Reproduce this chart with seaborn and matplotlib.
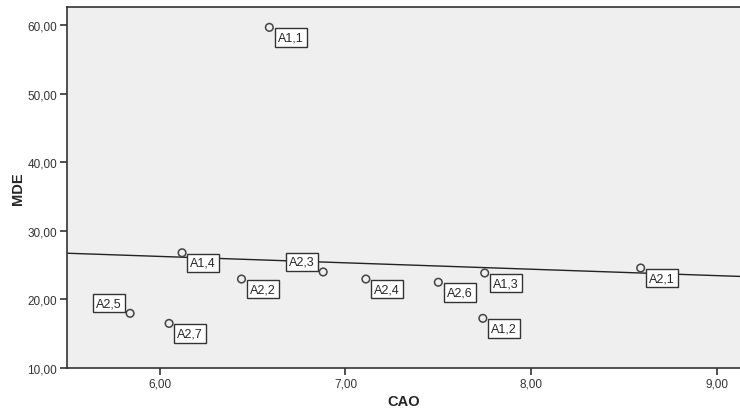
import numpy as np
import pandas as pd
import matplotlib
matplotlib.use('Agg')
import matplotlib.pyplot as plt
import seaborn as sns

# values
labels = ['A1,1', 'A1,2', 'A1,3', 'A1,4', 'A2,1', 'A2,2', 'A2,3', 'A2,4', 'A2,5', 'A2,6', 'A2,7']
cao = [6.59, 7.74, 7.75, 6.12, 8.59, 6.44, 6.88, 7.11, 5.84, 7.50, 6.05]
mde = [59.66, 17.24, 23.85, 26.80, 24.58, 22.97, 24.00, 22.97, 17.97, 22.50, 16.50]

x_ticks = [6, 7, 8, 9]
y_ticks = [10, 20, 30, 40, 50, 60]

data = pd.DataFrame({'CAO': cao, 'MDE': mde, 'label': labels})

sns.set_style('ticks')
plt.rcParams['font.family'] = ['Liberation Sans', 'DejaVu Sans']

fig = plt.figure(figsize=(7.4, 4.1), dpi=100)
ax = fig.add_axes([0.0905, 0.1, 0.9095, 0.88])
ax.set_facecolor('#efefef')

ax.set_xlim(5.5, 9.125)
ax.set_ylim(10, 62.6)

# fit line across the whole x range
sns.regplot(x='CAO', y='MDE', data=data, ax=ax, scatter=False, ci=None,
            truncate=False, line_kws={'color': '#222222', 'lw': 1})
sns.scatterplot(x='CAO', y='MDE', data=data, ax=ax, marker='o', s=30,
                facecolor='none', edgecolor='#444444', linewidth=1.1, zorder=3)

ax.set_xlim(5.5, 9.125)
ax.set_ylim(10, 62.6)

# point labels in boxes, most go lower right
upper_left = {'A2,5', 'A2,3'}
box = dict(boxstyle='square,pad=0.25', fc='white', ec='#333333', lw=1)
for _, r in data.iterrows():
    if r['label'] in upper_left:
        ax.annotate(r['label'], (r['CAO'], r['MDE']), xytext=(-6, 3),
                    textcoords='offset points', ha='right', va='bottom',
                    fontsize=9, bbox=box, zorder=4)
    else:
        ax.annotate(r['label'], (r['CAO'], r['MDE']), xytext=(6, -3),
                    textcoords='offset points', ha='left', va='top',
                    fontsize=9, bbox=box, zorder=4)

ax.set_xticks(x_ticks)
ax.set_yticks(y_ticks)
ax.set_xticklabels([f'{t:.2f}'.replace('.', ',') for t in x_ticks])
ax.set_yticklabels([f'{t:.2f}'.replace('.', ',') for t in y_ticks])
ax.tick_params(labelsize=8.5, colors='#333333', length=5, width=1.2, pad=2)

for side in ['left', 'bottom', 'top']:
    ax.spines[side].set_color('#333333')
    ax.spines[side].set_linewidth(1.2)
ax.spines['right'].set_visible(False)

ax.set_xlabel('CAO', fontsize=10.5, fontweight='bold', labelpad=3)
ax.set_ylabel('MDE', fontsize=10.5, fontweight='bold', labelpad=2)

fig.savefig('out.png', dpi=100)
